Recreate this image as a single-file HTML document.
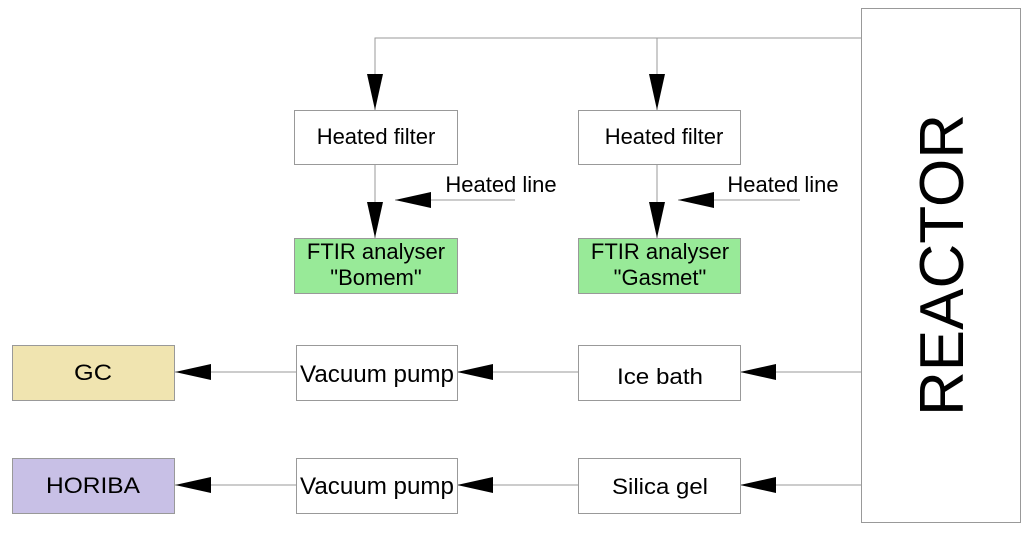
<!DOCTYPE html>
<html><head><style>body{margin:0;background:#fff}</style></head><body>
<svg width="1024" height="532" xmlns="http://www.w3.org/2000/svg" font-family="Liberation Sans, sans-serif">
<defs>
<marker id="a" markerWidth="36" markerHeight="16" refX="36" refY="8" orient="auto" markerUnits="userSpaceOnUse"><path d="M0,0 L36,8 L0,16 Z" fill="#000"/></marker>
</defs>
<g stroke="#999" stroke-width="1" fill="none">
<path d="M861,38 H375 V110" marker-end="url(#a)"/>
<path d="M657,38 V110" marker-end="url(#a)"/>
<path d="M375,164 V238" marker-end="url(#a)"/>
<path d="M657,164 V238" marker-end="url(#a)"/>
<path d="M515,200 H395" marker-end="url(#a)"/>
<path d="M800,200 H678" marker-end="url(#a)"/>
<path d="M861,372 H740" marker-end="url(#a)"/>
<path d="M578,372 H457" marker-end="url(#a)"/>
<path d="M296,372 H175" marker-end="url(#a)"/>
<path d="M861,485 H740" marker-end="url(#a)"/>
<path d="M578,485 H457" marker-end="url(#a)"/>
<path d="M296,485 H175" marker-end="url(#a)"/>
</g>
<g stroke="#999" stroke-width="1">
<rect x="861.5" y="8.5" width="159" height="514" fill="#fff"/>
<rect x="294.5" y="110.5" width="163" height="54" fill="#fff"/>
<rect x="578.5" y="110.5" width="162" height="54" fill="#fff"/>
<rect x="294.5" y="238.5" width="163" height="55" fill="#98ea98"/>
<rect x="578.5" y="238.5" width="162" height="55" fill="#98ea98"/>
<rect x="12.5" y="345.5" width="162" height="55" fill="#f0e4b0"/>
<rect x="296.5" y="345.5" width="161" height="55" fill="#fff"/>
<rect x="578.5" y="345.5" width="162" height="55" fill="#fff"/>
<rect x="12.5" y="458.5" width="162" height="55" fill="#c8c0e6"/>
<rect x="296.5" y="458.5" width="161" height="55" fill="#fff"/>
<rect x="578.5" y="458.5" width="162" height="55" fill="#fff"/>
</g>
<g font-size="22" fill="#000" text-anchor="middle">
<text x="376" y="144">Heated filter</text>
<text x="664" y="144">Heated filter</text>
<text x="501" y="192">Heated line</text>
<text x="783" y="192">Heated line</text>
<text x="376" y="259">FTIR analyser</text>
<text x="376" y="285">"Bomem"</text>
<text x="660" y="259">FTIR analyser</text>
<text x="660" y="285">"Gasmet"</text>
<text x="93" y="380" textLength="38" lengthAdjust="spacingAndGlyphs">GC</text>
<text x="377" y="382" font-size="24" textLength="154" lengthAdjust="spacingAndGlyphs">Vacuum pump</text>
<text x="660" y="384" textLength="86" lengthAdjust="spacingAndGlyphs">Ice bath</text>
<text x="93" y="493" textLength="94" lengthAdjust="spacingAndGlyphs">HORIBA</text>
<text x="377" y="494" font-size="24" textLength="154" lengthAdjust="spacingAndGlyphs">Vacuum pump</text>
<text x="660" y="494" textLength="96" lengthAdjust="spacingAndGlyphs">Silica gel</text>
<text transform="translate(963,265) rotate(-90)" font-size="62">REACTOR</text>
</g>
</svg>
</body></html>
